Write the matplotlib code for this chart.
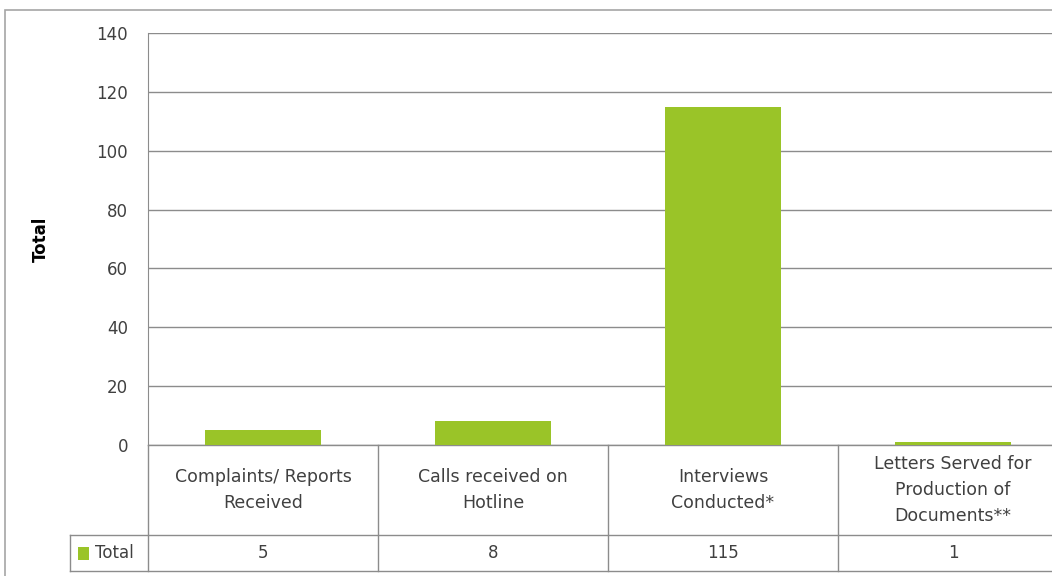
import matplotlib.pyplot as plt
from matplotlib.patches import Rectangle
import matplotlib.transforms as mtransforms

# data
categories = ["Complaints/ Reports\nReceived", "Calls received on\nHotline",
              "Interviews\nConducted*", "Letters Served for\nProduction of\nDocuments**"]
totals = [5, 8, 115, 1]
series_name = "Total"

green = '#9AC428'
grid_col = '#8C8C8C'
txt_col = '#404040'
W, H = 1052, 576

plt.rcParams['font.family'] = ['DejaVu Sans']

fig = plt.figure(figsize=(W / 100, H / 100), dpi=100)
# plot area in pixels: left 148, top 33, bottom 445, right past the image edge
col_w = 230.0
left, top, bottom = 148, 33, 445
ax = fig.add_axes([left / W, 1 - bottom / H, (W - left) / W, (bottom - top) / H])

x = range(len(totals))
ax.bar(x, totals, width=0.505, color=green, zorder=3)

ax.set_xlim(-0.5, -0.5 + (W - left) / col_w)
ax.set_ylim(0, 140)
ax.set_yticks(range(0, 141, 20))
ax.set_xticks([])
ax.yaxis.grid(True, color=grid_col, linewidth=1.0, zorder=0)
for s in ['top', 'right', 'bottom']:
    ax.spines[s].set_visible(False)
ax.spines['left'].set_color(grid_col)
ax.tick_params(axis='y', length=0, pad=14.4, labelsize=12, labelcolor=txt_col)
ax.set_ylabel("Total", fontsize=12, fontweight='bold', color='black')
ax.yaxis.set_label_coords((50 - left) / (W - left), 0.5)

# data table below the axis
trans = mtransforms.blended_transform_factory(ax.transData, ax.transAxes)
ph = float(bottom - top)
y_cat = -(535 - bottom) / ph
y_tot = -(571 - bottom) / ph
x_end = 3.5
x_leg = (70 - left) / col_w - 0.5
lk = dict(color=grid_col, linewidth=1.0, transform=trans, clip_on=False)

ax.plot([-0.5, x_end], [0, 0], **lk)
ax.plot([x_leg, x_end], [y_cat, y_cat], **lk)
ax.plot([x_leg, x_end], [y_tot, y_tot], **lk)
ax.plot([x_leg, x_leg], [y_cat, y_tot], **lk)
for b in [-0.5, 0.5, 1.5, 2.5, 3.5]:
    ax.plot([b, b], [0, y_tot], **lk)

for i, (c, v) in enumerate(zip(categories, totals)):
    ax.text(i, y_cat / 2, c, transform=trans, ha='center', va='center',
            fontsize=12.5, color=txt_col, linespacing=1.6)
    ax.text(i, (y_cat + y_tot) / 2, str(v), transform=trans, ha='center',
            va='center', fontsize=12, color=txt_col)

# legend key in the table
ax.add_patch(Rectangle(((78 - left) / col_w - 0.5, (y_cat + y_tot) / 2 - 6.5 / ph),
                       11 / col_w, 13 / ph, facecolor=green, edgecolor='none',
                       transform=trans, clip_on=False))
ax.text((95 - left) / col_w - 0.5, (y_cat + y_tot) / 2, series_name,
        transform=trans, ha='left', va='center', fontsize=12, color=txt_col)

# outer chart border
fig.add_artist(Rectangle((5 / W, -0.1), 2, 1 - 10 / H + 0.1, fill=False,
                         edgecolor='#A6A6A6', linewidth=1.2,
                         transform=fig.transFigure))

fig.savefig('out.png', dpi=100)
